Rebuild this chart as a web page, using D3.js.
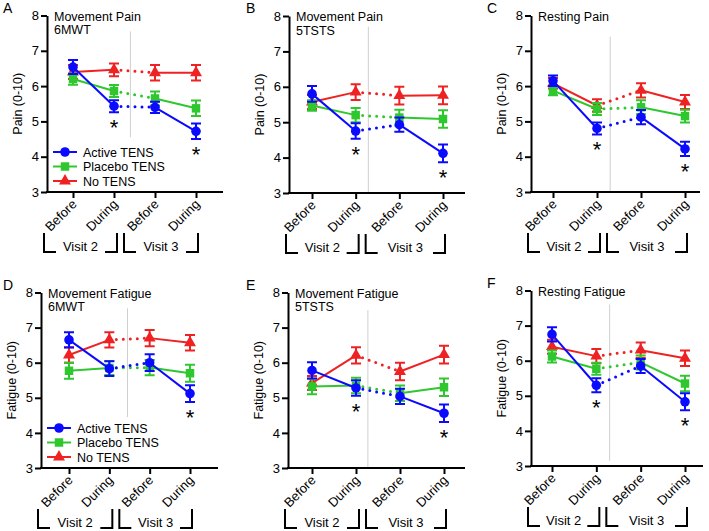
<!DOCTYPE html>
<html><head><meta charset="utf-8">
<script src="https://cdn.jsdelivr.net/npm/d3@7"></script>
<style>
body{margin:0;background:#fff}
svg{display:block}
text{font-family:Arial,"Liberation Sans",sans-serif;fill:#000}
</style>
</head><body>
<svg id="chart" width="709" height="531"></svg>
<script>
// ---------- data ----------
const conditions = ["Before", "During", "Before", "During"];
const visits = ["Visit 2", "Visit 3"];
const seriesNames = ["Active TENS", "Placebo TENS", "No TENS"];
const yTicks = [3, 4, 5, 6, 7, 8];
const panelLetters = ["A", "B", "C", "D", "E", "F"];
const panelTitles = [
  ["Movement Pain", "6MWT"], ["Movement Pain", "5TSTS"], ["Resting Pain"],
  ["Movement Fatigue", "6MWT"], ["Movement Fatigue", "5TSTS"], ["Resting Fatigue"]
];
const yLabels = ["Pain (0-10)", "Pain (0-10)", "Pain (0-10)",
                 "Fatigue (0-10)", "Fatigue (0-10)", "Fatigue (0-10)"];

const activeMean = [
  [6.54, 5.43, 5.40, 4.72], [5.80, 4.75, 4.93, 4.12], [6.15, 4.80, 5.12, 4.22],
  [6.65, 5.83, 6.00, 5.12], [5.78, 5.28, 5.04, 4.56], [6.75, 5.30, 5.85, 4.83]
];
const activeErr = [
  [0.20, 0.17, 0.16, 0.22], [0.22, 0.22, 0.20, 0.25], [0.15, 0.17, 0.20, 0.20],
  [0.22, 0.21, 0.24, 0.24], [0.23, 0.22, 0.22, 0.25], [0.20, 0.20, 0.20, 0.24]
];
const placeboMean = [
  [6.20, 5.86, 5.65, 5.37], [5.47, 5.20, 5.13, 5.09], [5.87, 5.35, 5.40, 5.15],
  [5.77, 5.85, 5.86, 5.70], [5.32, 5.35, 5.13, 5.30], [6.12, 5.77, 5.95, 5.35]
];
const placeboErr = [
  [0.16, 0.17, 0.20, 0.22], [0.15, 0.20, 0.22, 0.25], [0.13, 0.17, 0.20, 0.18],
  [0.23, 0.20, 0.22, 0.24], [0.22, 0.22, 0.22, 0.25], [0.17, 0.17, 0.20, 0.22]
];
const noTensMean = [
  [6.40, 6.46, 6.38, 6.38], [5.57, 5.85, 5.75, 5.76], [6.08, 5.45, 5.88, 5.55],
  [6.22, 6.65, 6.70, 6.57], [5.42, 6.21, 5.75, 6.23], [6.40, 6.13, 6.30, 6.07]
];
const noTensErr = [
  [0.20, 0.18, 0.22, 0.22], [0.20, 0.22, 0.25, 0.25], [0.15, 0.18, 0.20, 0.20],
  [0.22, 0.22, 0.23, 0.22], [0.20, 0.23, 0.25, 0.25], [0.20, 0.20, 0.22, 0.22]
];
// conditions (index) of Active TENS marked significant
const significant = [[1, 3], [1, 3], [1, 3], [3], [1, 3], [1, 3]];

// ---------- layout (positions only) ----------
const layouts = [
  {ax: 47,  right: 223, x1: 73,  x4: 196, y8: 15.5, y3: 192, div: 0.40, divY: [7.55, 4.55], lx: 3,   legend: true},
  {ax: 289, right: 465, x1: 312, x4: 443, y8: 16,   y3: 193, div: 0.29, divY: [7.70, 3.0],  lx: 246},
  {ax: 531, right: 700, x1: 553, x4: 685, y8: 15.5, y3: 192, div: 0.30, divY: [7.40, 3.0],  lx: 487},
  {ax: 41,  right: 218, x1: 69,  x4: 190, y8: 292.5,y3: 468, div: 0.45, divY: [7.55, 4.45], lx: 3,   legend: true},
  {ax: 288, right: 465, x1: 312, x4: 444, y8: 292.5,y3: 468, div: 0.27, divY: [7.50, 3.0],  lx: 246},
  {ax: 531, right: 703, x1: 552, x4: 685, y8: 290.5,y3: 466, div: 0.30, divY: [7.60, 3.15], lx: 487}
];
const colors = ["#0a0aff", "#2ec82e", "#ee2222"];
const symbols = [d3.symbolCircle, d3.symbolSquare, d3.symbolTriangle];
const symbolSizes = [72, 72, 62];

const svg = d3.select("#chart");

layouts.forEach((L, p) => {
  const g = svg.append("g");
  const x = d3.scalePoint().domain(d3.range(conditions.length)).range([L.x1, L.x4]);
  const y = d3.scaleLinear().domain([3, 8]).range([L.y3, L.y8]);
  const step = x.step();

  // panel letter
  g.append("text").attr("x", L.lx).attr("y", L.y8 - 3).attr("font-size", 14).text(panelLetters[p]);

  // divider
  const dx = x(1) + L.div * step;
  g.append("line").attr("x1", dx).attr("x2", dx)
    .attr("y1", y(L.divY[0])).attr("y2", y(L.divY[1]))
    .attr("stroke", "#cfcfcf").attr("stroke-width", 1);

  // y axis
  const yAxis = g.append("g").attr("transform", `translate(${L.ax},0)`)
    .call(d3.axisLeft(y).tickValues(yTicks).tickSize(6).tickSizeOuter(0).tickPadding(2).tickFormat(d3.format("d")));
  yAxis.select(".domain").attr("stroke-width", 2);
  yAxis.selectAll(".tick line").attr("stroke-width", 2);
  yAxis.selectAll(".tick text").attr("font-size", 13).attr("font-family", "Arial, 'Liberation Sans', sans-serif");

  // x axis
  const xAxis = g.append("g").attr("transform", `translate(0,${L.y3})`)
    .call(d3.axisBottom(x).tickSize(6).tickSizeOuter(0).tickFormat(i => conditions[i]));
  xAxis.select(".domain").remove();
  xAxis.append("line").attr("x1", L.ax - 1).attr("x2", L.right).attr("y1", 0).attr("y2", 0)
    .attr("stroke", "#000").attr("stroke-width", 2);
  xAxis.selectAll(".tick line").attr("stroke-width", 2);
  xAxis.selectAll(".tick text")
    .attr("font-size", 13).attr("font-family", "Arial, 'Liberation Sans', sans-serif")
    .attr("text-anchor", "end").attr("dy", 0).attr("y", 0)
    .attr("transform", "translate(4,13) rotate(-45)");

  // y label
  g.append("text")
    .attr("transform", `translate(${L.ax - 25},${(L.y3 + L.y8) / 2}) rotate(-90)`)
    .attr("text-anchor", "middle").attr("font-size", 12.5).text(yLabels[p]);

  // title
  panelTitles[p].forEach((t, i) => {
    g.append("text").attr("x", L.ax + 7).attr("y", L.y8 + 5 + i * 13.5)
      .attr("font-size", 12.5).text(t);
  });

  // visit brackets
  const bTop = L.y3 + 41, bBot = L.y3 + 60, foot = 12;
  const r2 = x(1) + 3;
  const spans = [[L.ax - 3, r2], [r2 + 7, x(3) + 2]];
  spans.forEach((s, i) => {
    g.append("path")
      .attr("d", `M${s[0]},${bTop}V${bBot}H${s[0] + foot}M${s[1] - foot},${bBot}H${s[1]}V${bTop}`)
      .attr("fill", "none").attr("stroke", "#000").attr("stroke-width", 2);
    g.append("text").attr("x", (s[0] + s[1]) / 2).attr("y", bBot - 1)
      .attr("text-anchor", "middle").attr("font-size", 13).text(visits[i]);
  });

  // series
  const series = [
    {m: noTensMean[p], e: noTensErr[p], k: 2},
    {m: placeboMean[p], e: placeboErr[p], k: 1},
    {m: activeMean[p], e: activeErr[p], k: 0}
  ];
  series.forEach(s => {
    const c = colors[s.k];
    const line = d3.line().x(i => x(i)).y(i => y(s.m[i]));
    g.append("path").attr("d", line([0, 1])).attr("fill", "none").attr("stroke", c).attr("stroke-width", 2);
    g.append("path").attr("d", line([2, 3])).attr("fill", "none").attr("stroke", c).attr("stroke-width", 2);
    g.append("path").attr("d", line([1, 2])).attr("fill", "none").attr("stroke", c)
      .attr("stroke-width", 3).attr("stroke-linecap", "round").attr("stroke-dasharray", "0 7");
    s.m.forEach((v, i) => {
      const cx = x(i), cap = 5;
      g.append("path")
        .attr("d", `M${cx},${y(v + s.e[i])}V${y(v - s.e[i])}M${cx - cap},${y(v + s.e[i])}H${cx + cap}M${cx - cap},${y(v - s.e[i])}H${cx + cap}`)
        .attr("stroke", c).attr("stroke-width", 2).attr("fill", "none");
      g.append("path").attr("d", d3.symbol(symbols[s.k], symbolSizes[s.k])())
        .attr("transform", `translate(${cx},${y(v)})`).attr("fill", c);
    });
  });

  // significance asterisks
  significant[p].forEach(i => {
    const v = activeMean[p][i] - activeErr[p][i];
    g.append("text").attr("x", x(i)).attr("y", y(v) + 23)
      .attr("text-anchor", "middle").attr("font-size", 22).text("*");
  });

  // legend
  if (L.legend) {
    const ly = [L.y3 - 40, L.y3 - 25.5, L.y3 - 11];
    seriesNames.forEach((n, k) => {
      const lg = g.append("g").attr("transform", `translate(${L.ax + 6},${ly[k]})`);
      lg.append("line").attr("x1", 0).attr("x2", 24).attr("stroke", colors[k]).attr("stroke-width", 2);
      lg.append("path").attr("d", d3.symbol(symbols[k], symbolSizes[k])()).attr("transform", "translate(12,0)").attr("fill", colors[k]);
      lg.append("text").attr("x", 30).attr("y", 4.5).attr("font-size", 12.5).text(n);
    });
  }
});
</script>
</body></html>
